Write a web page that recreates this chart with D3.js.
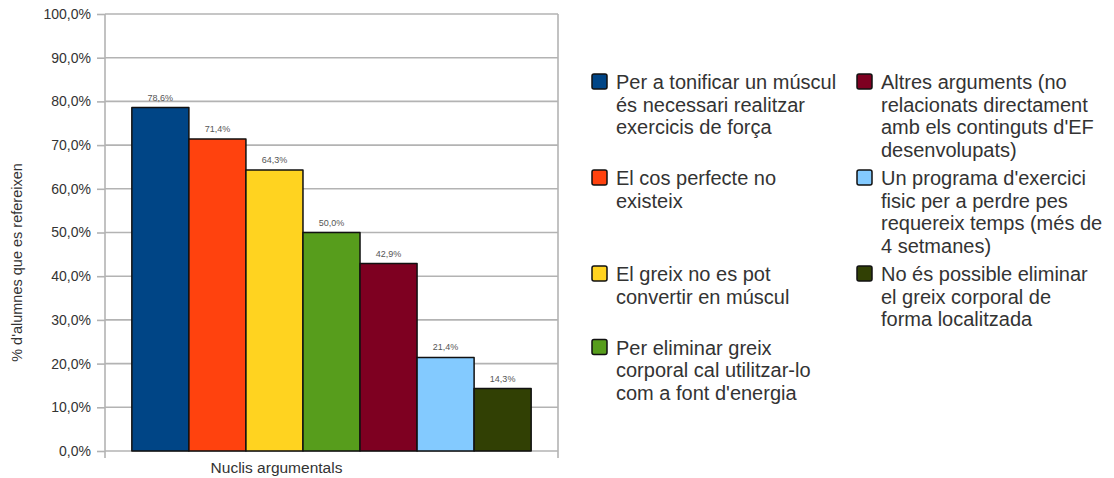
<!DOCTYPE html>
<html>
<head>
<meta charset="utf-8">
<script src="https://cdn.jsdelivr.net/npm/d3@7"></script>
<style>
  html, body { margin: 0; padding: 0; background: #fff; }
  svg { display: block; font-family: "Liberation Sans", Arial, sans-serif; }
</style>
</head>
<body>
<svg id="chart" width="1114" height="478"></svg>
<script>
// Category on the x axis
const categories = ["Nuclis argumentals"];

// One series per argument, already wrapped into the legend's lines
const seriesLines = [
  ["Per a tonificar un múscul", "és necessari realitzar", "exercicis de força"],
  ["El cos perfecte no", "existeix"],
  ["El greix no es pot", "convertir en múscul"],
  ["Per eliminar greix", "corporal cal utilitzar-lo", "com a font d'energia"],
  ["Altres arguments (no", "relacionats directament", "amb els continguts d'EF", "desenvolupats)"],
  ["Un programa d'exercici", "fisic per a perdre pes", "requereix temps (més de", "4 setmanes)"],
  ["No és possible eliminar", "el greix corporal de", "forma localitzada"]
];
const seriesNames = seriesLines.map(l => l.join(" "));

// Percentage of students for each argument
const values = [78.6, 71.4, 64.3, 50.0, 42.9, 21.4, 14.3];
const valueLabels = ["78,6%", "71,4%", "64,3%", "50,0%", "42,9%", "21,4%", "14,3%"];

const colors = ["#004586", "#ff420e", "#ffd320", "#579d1c", "#7e0021", "#83caff", "#314004"];

const yTicks = [0, 10, 20, 30, 40, 50, 60, 70, 80, 90, 100];
const yTickLabels = ["0,0%", "10,0%", "20,0%", "30,0%", "40,0%", "50,0%", "60,0%", "70,0%", "80,0%", "90,0%", "100,0%"];
const yTitle = "% d'alumnes que es refereixen";

const svg = d3.select("#chart");

const plot = { left: 105, right: 558, top: 14, bottom: 451 };
const gridColor = "#b3b3b3";
const textColor = "#333";

const y = d3.scaleLinear().domain([0, 100]).range([plot.bottom, plot.top]);
const x0 = d3.scaleBand().domain(categories).range([plot.left, plot.right]).padding(0.063);
const x1 = d3.scaleBand().domain(d3.range(values.length)).range([0, x0.bandwidth()]);

// Horizontal gridlines
svg.append("g")
  .selectAll("line")
  .data(yTicks)
  .join("line")
  .attr("x1", plot.left).attr("x2", plot.right)
  .attr("y1", d => y(d)).attr("y2", d => y(d))
  .attr("stroke", gridColor).attr("stroke-width", 1.6);

// Left axis with ticks and labels
const yAxis = d3.axisLeft(y)
  .tickValues(yTicks)
  .tickFormat((d, i) => yTickLabels[i])
  .tickSize(8)
  .tickPadding(6);
const gy = svg.append("g").attr("transform", `translate(${plot.left},0)`).call(yAxis);
gy.select(".domain").remove();
gy.selectAll(".tick line").attr("stroke", gridColor).attr("stroke-width", 1.6);
gy.selectAll(".tick text")
  .attr("fill", textColor)
  .style("font-size", "14px")
  .style("font-family", "'Liberation Sans', Arial, sans-serif");

// Frame verticals (left axis and right border) that run a little below zero
[plot.left, plot.right].forEach(xv => {
  svg.append("line")
    .attr("x1", xv).attr("x2", xv)
    .attr("y1", plot.top).attr("y2", plot.bottom + 7)
    .attr("stroke", gridColor).attr("stroke-width", 1.6);
});

// Bars
const g = svg.append("g").attr("transform", `translate(${x0(categories[0])},0)`);
g.selectAll("rect")
  .data(values)
  .join("rect")
  .attr("x", (d, i) => x1(i))
  .attr("y", d => y(d))
  .attr("width", x1.bandwidth())
  .attr("height", d => y(0) - y(d))
  .attr("fill", (d, i) => colors[i])
  .attr("stroke", "#111")
  .attr("stroke-width", 1.5)
  .attr("stroke-linejoin", "round");

// Value labels above the bars
g.selectAll("text.val")
  .data(values)
  .join("text")
  .attr("class", "val")
  .attr("x", (d, i) => x1(i) + x1.bandwidth() / 2)
  .attr("y", d => y(d) - 7)
  .attr("text-anchor", "middle")
  .attr("fill", "#555")
  .style("font-size", "9px")
  .text((d, i) => valueLabels[i]);

// Category label
svg.append("text")
  .attr("x", x0(categories[0]) + x0.bandwidth() / 2 - 55)
  .attr("y", 473)
  .attr("text-anchor", "middle")
  .attr("fill", textColor)
  .style("font-size", "15.5px")
  .text(categories[0]);

// Y axis title
svg.append("text")
  .attr("transform", `translate(22,${(plot.top + plot.bottom) / 2 + 30}) rotate(-90)`)
  .attr("text-anchor", "middle")
  .attr("fill", textColor)
  .style("font-size", "14.5px")
  .text(yTitle);

// Legend: two columns, four rows; row height follows the taller entry
const legend = { colX: [592, 857], textDX: 24, top: 71, lineH: 22.5, rowGap: 6, font: 20 };
const nRows = 4;
const rowTops = [];
let acc = legend.top;
for (let r = 0; r < nRows; r++) {
  rowTops.push(acc);
  const a = seriesLines[r] ? seriesLines[r].length : 0;
  const b = seriesLines[r + nRows] ? seriesLines[r + nRows].length : 0;
  acc += Math.max(a, b) * legend.lineH + legend.rowGap;
}
const lg = svg.append("g");
const items = lg.selectAll("g.item")
  .data(seriesNames)
  .join("g")
  .attr("class", "item")
  .attr("transform", (d, i) => `translate(${legend.colX[Math.floor(i / nRows)]},${rowTops[i % nRows]})`);
items.append("rect")
  .attr("x", 0).attr("y", 3)
  .attr("width", 15).attr("height", 15)
  .attr("rx", 2)
  .attr("fill", (d, i) => colors[i])
  .attr("stroke", "#111").attr("stroke-width", 1.5);
items.append("text")
  .attr("x", legend.textDX)
  .attr("fill", textColor)
  .style("font-size", legend.font + "px")
  .selectAll("tspan")
  .data((d, i) => seriesLines[i])
  .join("tspan")
  .attr("x", legend.textDX)
  .attr("y", (d, j) => 18 + j * legend.lineH)
  .text(d => d);
</script>
</body>
</html>
